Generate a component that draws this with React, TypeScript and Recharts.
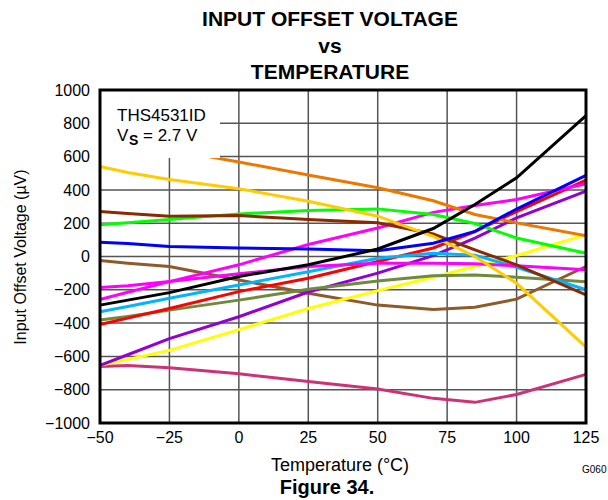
import React from 'react';
import { LineChart, Line, XAxis, YAxis, CartesianGrid } from 'recharts';

const temps = [-50, -40, -25, 0, 25, 50, 70, 85, 100, 125];

const black = [-292, -262, -217, -120, -50, 45, 168, 312, 473, 846];
const blue = [85, 78, 60, 51, 45, 34, 80, 151, 285, 487];
const orange = [725, 692, 642, 568, 489, 413, 335, 252, 202, 125];
const gold = [540, 504, 463, 407, 332, 242, 121, 0, -161, -544];
const maroon = [270, 258, 242, 246, 222, 202, 135, 40, -50, -230];
const green = [190, 203, 222, 256, 276, 286, 252, 198, 111, 20];
const magentaA = [-258, -215, -151, -50, 72, 171, 265, 306, 342, 437];
const magentaB = [-186, -175, -150, -104, -60, -40, -40, -44, -56, -80];
const cyan = [-332, -300, -251, -171, -91, -10, 20, 8, -65, -200];
const red = [-408, -370, -312, -211, -131, -30, 51, 150, 270, 459];
const olive = [-382, -360, -322, -262, -197, -147, -115, -111, -124, -151];
const purple = [-654, -590, -493, -362, -213, -100, 5, 111, 232, 393];
const yellow = [-654, -618, -564, -439, -312, -205, -125, -60, 5, 131];
const brown = [-24, -40, -60, -141, -221, -292, -318, -305, -256, -60];
const pinkRed = [-660, -654, -668, -704, -751, -796, -852, -876, -829, -708];

const xTicks = [-50, -25, 0, 25, 50, 75, 100, 125];
const yTicks = [-1000, -800, -600, -400, -200, 0, 200, 400, 600, 800, 1000];

const series: { key: string; values: number[]; color: string }[] = [
  { key: 'pinkRed', values: pinkRed, color: '#CC3377' },
  { key: 'brown', values: brown, color: '#8E5A2A' },
  { key: 'yellow', values: yellow, color: '#FFFF00' },
  { key: 'purple', values: purple, color: '#9400D3' },
  { key: 'olive', values: olive, color: '#6E8B3D' },
  { key: 'red', values: red, color: '#FF0000' },
  { key: 'cyan', values: cyan, color: '#00B4FF' },
  { key: 'magentaB', values: magentaB, color: '#FF00FF' },
  { key: 'magentaA', values: magentaA, color: '#FF00FF' },
  { key: 'green', values: green, color: '#00FF00' },
  { key: 'maroon', values: maroon, color: '#8B2A00' },
  { key: 'gold', values: gold, color: '#FFCC00' },
  { key: 'orange', values: orange, color: '#EE7700' },
  { key: 'blue', values: blue, color: '#0000FF' },
  { key: 'black', values: black, color: '#000000' },
];

const data = temps.map((t, i) => {
  const row: Record<string, number> = { t };
  series.forEach((s) => {
    row[s.key] = s.values[i];
  });
  return row;
});

const FONT = '"Liberation Sans", Arial, Helvetica, sans-serif';
const fmt = (v: number) => String(v).replace('-', '\u2212');

const PLOT = { left: 100, top: 90, width: 486, height: 333 };

const Overlay = () => (
  <svg
    width={608}
    height={500}
    style={{ position: 'absolute', left: 0, top: 0, pointerEvents: 'none' }}
    fontFamily={FONT}
  >
    <rect x={PLOT.left} y={PLOT.top} width={120} height={68} fill="#fff" stroke="none" />
    <rect x={PLOT.left} y={PLOT.top} width={PLOT.width} height={PLOT.height} fill="none" stroke="#000" strokeWidth={3} />
    <g fill="#000">
      <text x={330} y={26} fontSize={21} fontWeight="bold" textAnchor="middle">INPUT OFFSET VOLTAGE</text>
      <text x={330} y={53} fontSize={21} fontWeight="bold" textAnchor="middle">vs</text>
      <text x={330} y={79} fontSize={21} fontWeight="bold" textAnchor="middle">TEMPERATURE</text>
      <text x={117} y={121} fontSize={17}>THS4531ID</text>
      <text x={117} y={141} fontSize={17}>V</text>
      <text x={129} y={145} fontSize={14} fontWeight="bold">S</text>
      <text x={143} y={141} fontSize={17}>= 2.7 V</text>
      <text x={340} y={471} fontSize={18} textAnchor="middle">Temperature (°C)</text>
      <text x={327} y={494} fontSize={20} fontWeight="bold" textAnchor="middle">Figure 34.</text>
      <text x={582} y={473} fontSize={10}>G060</text>
      <text x={20} y={257} fontSize={16} textAnchor="middle" dominantBaseline="central" transform="rotate(-90 20 257)">
        Input Offset Voltage (µV)
      </text>
    </g>
  </svg>
);

export default function App() {
  return (
    <div style={{ position: 'absolute', left: 0, top: 0, width: 608, height: 500, background: '#fff' }}>
      <LineChart width={608} height={500} data={data} margin={{ top: 90, right: 22, bottom: 47, left: 0 }}>
        <CartesianGrid stroke="#555" strokeWidth={1.5} />
        <XAxis
          dataKey="t"
          type="number"
          domain={[-50, 125]}
          ticks={xTicks}
          tickFormatter={fmt}
          height={30}
          axisLine={false}
          tickLine={false}
          tickSize={0}
          tickMargin={9}
          tick={{ fontSize: 16, fill: '#000', fontFamily: FONT }}
          interval={0}
        />
        <YAxis
          type="number"
          domain={[-1000, 1000]}
          ticks={yTicks}
          tickFormatter={fmt}
          width={100}
          axisLine={false}
          tickLine={false}
          tickSize={0}
          tickMargin={10}
          tick={{ fontSize: 16, fill: '#000', fontFamily: FONT }}
          interval={0}
        />
        {series.map((s) => (
          <Line
            key={s.key}
            dataKey={s.key}
            type="linear"
            stroke={s.color}
            strokeWidth={3}
            dot={false}
            isAnimationActive={false}
          />
        ))}
      </LineChart>
      <Overlay />
    </div>
  );
}
